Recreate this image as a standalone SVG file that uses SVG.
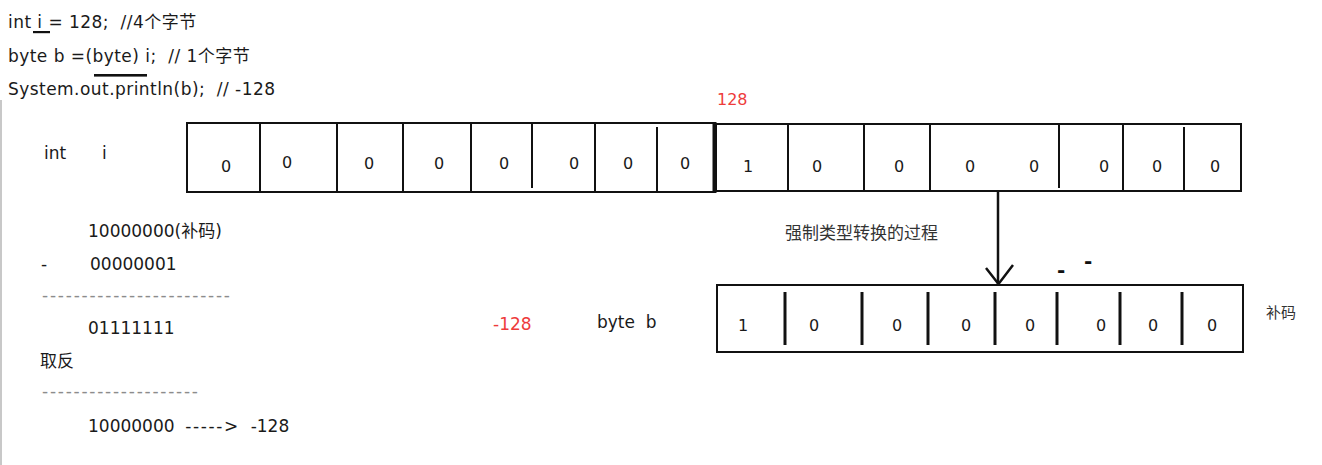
<svg xmlns="http://www.w3.org/2000/svg" width="1322" height="465" viewBox="0 0 1322 465">
<style>
text{font-family:"DejaVu Sans","Noto Sans CJK SC",sans-serif;font-size:17px;fill:#1a1a1a}
.t{letter-spacing:0.45px}
.red{fill:#ee3b3b;font-size:16px}
.gray{fill:#8c8c8c}
.cn{fill:#333}
.cell{font-size:16px;text-anchor:middle}
.box{fill:#fff;stroke:#111;stroke-width:2}
.div{stroke:#111;stroke-width:2}
.divb{stroke:#111;stroke-width:3}
.dash{font-size:20px;font-weight:bold;fill:#111}
</style>
<rect width="1322" height="465" fill="#fff"/>
<line x1="1" y1="100" x2="1" y2="465" stroke="#c8c8c8" stroke-width="2"/>

<g id="code">
<text class="t" x="8" y="28" xml:space="preserve">int i = 128;  //4个字节</text>
<rect x="33" y="31" width="17" height="2.2" fill="#111"/>
<text class="t" x="8" y="62" xml:space="preserve">byte b =(byte) i;  // 1个字节</text>
<rect x="94" y="74" width="53" height="2.6" fill="#111"/>
<text class="t" x="8" y="95" xml:space="preserve">System.out.println(b);  // -128</text>
</g>

<g id="calc">
<text x="88" y="237">10000000(补码)</text>
<text x="41" y="270">-</text>
<text x="90" y="270">00000001</text>
<text class="gray" x="42" y="301" textLength="188" lengthAdjust="spacing">------------------------</text>
<text x="88" y="334">01111111</text>
<text x="40" y="367">取反</text>
<text class="gray" x="42" y="397" textLength="156" lengthAdjust="spacing">--------------------</text>
<text x="88" y="432" xml:space="preserve">10000000  <tspan letter-spacing="1.6px">-----&gt;</tspan>  -128</text>
</g>

<g id="label-int">
<text x="44" y="159">int</text>
<text x="102" y="159">i</text>
</g>

<g id="int-i">
<rect class="box" x="187" y="123" width="527" height="69"/>
<rect class="box" x="716" y="124" width="525" height="67"/>
<line x1="714.5" y1="122" x2="714.5" y2="193" stroke="#111" stroke-width="4"/>
<line class="div" x1="260" y1="123" x2="260" y2="192"/>
<line class="div" x1="337" y1="123" x2="337" y2="192"/>
<line class="div" x1="403" y1="123" x2="403" y2="192"/>
<line class="div" x1="471" y1="123" x2="471" y2="192"/>
<line class="div" x1="532" y1="123" x2="532" y2="188"/>
<line class="div" x1="595" y1="123" x2="595" y2="192"/>
<line class="div" x1="657" y1="127" x2="657" y2="192"/>
<line class="div" x1="788" y1="124" x2="788" y2="191"/>
<line class="div" x1="864" y1="124" x2="864" y2="191"/>
<line class="div" x1="930" y1="124" x2="930" y2="191"/>
<line class="div" x1="1059" y1="124" x2="1059" y2="188"/>
<line class="div" x1="1123" y1="124" x2="1123" y2="191"/>
<line class="div" x1="1184" y1="127" x2="1184" y2="191"/>
<text class="cell" x="226" y="172">0</text>
<text class="cell" x="287" y="168">0</text>
<text class="cell" x="369" y="169">0</text>
<text class="cell" x="439" y="169">0</text>
<text class="cell" x="504" y="169">0</text>
<text class="cell" x="574" y="169">0</text>
<text class="cell" x="628" y="169">0</text>
<text class="cell" x="685" y="169">0</text>
<text class="cell" x="748" y="172">1</text>
<text class="cell" x="817" y="172">0</text>
<text class="cell" x="899" y="172">0</text>
<text class="cell" x="970" y="172">0</text>
<text class="cell" x="1034" y="172">0</text>
<text class="cell" x="1104" y="172">0</text>
<text class="cell" x="1157" y="172">0</text>
<text class="cell" x="1215" y="172">0</text>
</g>

<g id="label-128">
<text class="red" x="717" y="105">128</text>
</g>

<g id="connectors">
<line x1="998" y1="191" x2="998" y2="284" stroke="#111" stroke-width="2.5"/>
<polyline points="986,268 998.5,284 1013,265" fill="none" stroke="#111" stroke-width="2.5"/>
</g>

<g id="label-cast">
<text class="cn" x="785" y="239">强制类型转换的过程</text>
<text class="dash" x="1057" y="277">-</text>
<text class="dash" x="1084" y="268">-</text>
</g>

<g id="label-byte">
<text class="red" x="493" y="330" style="font-size:17px">-128</text>
<text x="597" y="328" xml:space="preserve">byte  b</text>
</g>

<g id="byte-b">
<rect class="box" x="717" y="285" width="526" height="67"/>
<line class="divb" x1="785" y1="292" x2="785" y2="345"/>
<line class="divb" x1="862" y1="292" x2="862" y2="345"/>
<line class="divb" x1="928" y1="292" x2="928" y2="345"/>
<line class="divb" x1="995" y1="292" x2="995" y2="345"/>
<line class="divb" x1="1057" y1="292" x2="1057" y2="345"/>
<line class="divb" x1="1120" y1="292" x2="1120" y2="345"/>
<line class="divb" x1="1182" y1="292" x2="1182" y2="345"/>
<text class="cell" x="743" y="331">1</text>
<text class="cell" x="814" y="331">0</text>
<text class="cell" x="897" y="331">0</text>
<text class="cell" x="966" y="331">0</text>
<text class="cell" x="1030" y="331">0</text>
<text class="cell" x="1101" y="331">0</text>
<text class="cell" x="1153" y="331">0</text>
<text class="cell" x="1212" y="331">0</text>
</g>

<g id="label-buma">
<text class="cn" x="1266" y="318" style="font-size:15px">补码</text>
</g>
</svg>
